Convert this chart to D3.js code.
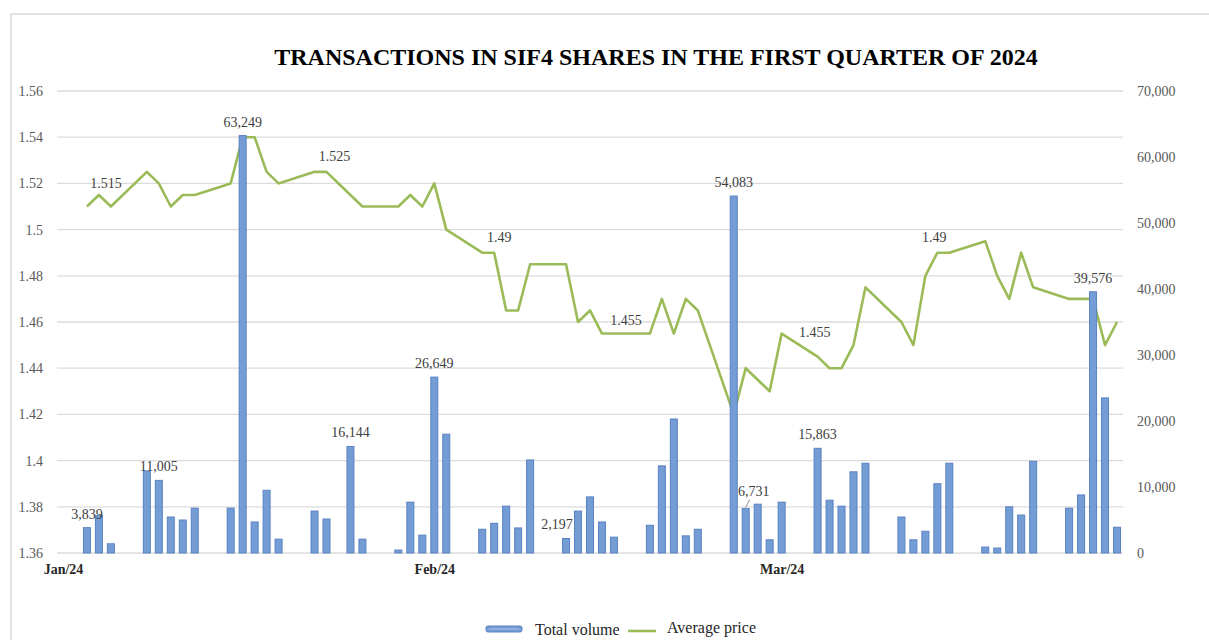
<!DOCTYPE html>
<html lang="en">
<head>
    <meta charset="UTF-8">
    <title>SIF4 transactions Q1 2024</title>
    <script src="https://d3js.org/d3.v7.min.js"></script>
    <style>
        body{
            margin: 0;
            background-color: #ffffff;
        }
        #canvas text{
            font-family: "Liberation Serif", "Times New Roman", serif;
        }
        .title{
            font-size: 24px;
            font-weight: bold;
            fill: #000000;
        }
        .axis text{
            font-size: 14px;
            fill: #595959;
        }
        .xaxis text{
            font-size: 14px;
            font-weight: bold;
            fill: #262626;
        }
        .grid{
            stroke: #dcdcdc;
            stroke-width: 1.3px;
        }
        .bar{
            fill: #749cd5;
            stroke: #5a82c2;
            stroke-width: 1px;
        }
        .price{
            fill: none;
            stroke: #9bbb59;
            stroke-width: 2.6px;
            stroke-linejoin: round;
        }
        .label{
            font-size: 14px;
            fill: #404040;
            text-anchor: middle;
        }
        .legend text{
            font-size: 16px;
            fill: #262626;
        }
    </style>
</head>
<body>
<svg id="canvas" width="1209" height="640"></svg>
<script>
    // trading days of Q1 2024
    let tradeDays = [
        "2024-01-03","2024-01-04","2024-01-05","2024-01-08","2024-01-09","2024-01-10","2024-01-11","2024-01-12",
        "2024-01-15","2024-01-16","2024-01-17","2024-01-18","2024-01-19","2024-01-22","2024-01-23","2024-01-25",
        "2024-01-26","2024-01-29","2024-01-30","2024-01-31",
        "2024-02-01","2024-02-02","2024-02-05","2024-02-06","2024-02-07","2024-02-08","2024-02-09","2024-02-12",
        "2024-02-13","2024-02-14","2024-02-15","2024-02-16","2024-02-19","2024-02-20","2024-02-21","2024-02-22",
        "2024-02-23","2024-02-26","2024-02-27","2024-02-28","2024-02-29",
        "2024-03-01","2024-03-04","2024-03-05","2024-03-06","2024-03-07","2024-03-08","2024-03-11","2024-03-12",
        "2024-03-13","2024-03-14","2024-03-15","2024-03-18","2024-03-19","2024-03-20","2024-03-21","2024-03-22",
        "2024-03-25","2024-03-26","2024-03-27","2024-03-28","2024-03-29"]
    let totalVolume = [
        3839, 5700, 1400, 12400, 11005, 5450, 5000, 6800,
        6800, 63249, 4700, 9500, 2100, 6350, 5150, 16144,
        2100, 450, 7700, 2700,
        26649, 18000, 3600, 4500, 7100, 3800, 14100, 2197,
        6350, 8500, 4700, 2400, 4200, 13200, 20300, 2600,
        3600, 54083, 6731, 7400, 2000,
        7700, 15863, 8000, 7100, 12300, 13600, 5450, 2000,
        3300, 10500, 13600, 900, 750, 7000, 5750, 13900,
        6800, 8800, 39576, 23500, 3900]
    let avgPrice = [
        1.51, 1.515, 1.51, 1.525, 1.52, 1.51, 1.515, 1.515,
        1.52, 1.54, 1.54, 1.525, 1.52, 1.525, 1.525, 1.515,
        1.51, 1.51, 1.515, 1.51,
        1.52, 1.50, 1.49, 1.49, 1.465, 1.465, 1.485, 1.485,
        1.46, 1.465, 1.455, 1.455, 1.455, 1.47, 1.455, 1.47,
        1.465, 1.42, 1.44, 1.435, 1.43,
        1.455, 1.445, 1.44, 1.44, 1.45, 1.475, 1.46, 1.45,
        1.48, 1.49, 1.49, 1.495, 1.48, 1.47, 1.49, 1.475,
        1.47, 1.47, 1.47, 1.45, 1.46]
    let priceTicks = [1.36, 1.38, 1.40, 1.42, 1.44, 1.46, 1.48, 1.50, 1.52, 1.54, 1.56]
    let volumeTicks = [0, 10000, 20000, 30000, 40000, 50000, 60000, 70000]
    let monthTicks = ["2024-01-01", "2024-02-01", "2024-03-01"]
    let volumeLabelDays = ["2024-01-03","2024-01-09","2024-01-16","2024-01-25","2024-02-01",
        "2024-02-12","2024-02-26","2024-02-27","2024-03-04","2024-03-27"]
    let priceLabelDays = ["2024-01-04","2024-01-23","2024-02-06","2024-02-16","2024-03-01","2024-03-14"]
    let titleText = "TRANSACTIONS IN SIF4 SHARES IN THE FIRST QUARTER OF 2024"
    let seriesNames = ["Total volume", "Average price"]

    let parse = d3.timeParse("%Y-%m-%d")
    let rows = tradeDays.map(function (d, i) {
        return {key: d, date: parse(d), vol: totalVolume[i], price: avgPrice[i]}
    })
    let byKey = {}
    rows.forEach(function (r) { byKey[r.key] = r })

    let svg = d3.select('#canvas')
    let plot = {left: 57, right: 1123, top: 91, bottom: 553}

    // frame
    svg.append('rect').attr('x', 11).attr('y', 14).attr('width', 1220).attr('height', 660)
        .attr('fill', 'none').attr('stroke', '#d9d9d9').attr('stroke-width', 1.5)

    svg.append('text').attr('class', 'title')
        .attr('x', 656).attr('y', 65).attr('text-anchor', 'middle')
        .text(titleText)

    let xScale = d3.scaleTime()
        .domain([new Date(2023, 11, 31, 12), new Date(2024, 2, 29, 12)])
        .range([plot.left, plot.right])
    let yPrice = d3.scaleLinear().domain([1.36, 1.56]).range([plot.bottom, plot.top])
    let yVol = d3.scaleLinear().domain([0, 70000]).range([plot.bottom, plot.top])

    svg.append('g').selectAll('line')
        .data(priceTicks)
        .enter()
        .append('line')
        .attr('class', 'grid')
        .attr('x1', plot.left).attr('x2', plot.right)
        .attr('y1', yPrice).attr('y2', yPrice)

    let leftAxis = d3.axisLeft(yPrice).tickValues(priceTicks).tickSize(0).tickPadding(14)
        .tickFormat(function (d) { return String(+d.toFixed(2)) })
    svg.append('g').attr('class', 'axis')
        .attr('transform', `translate(${plot.left},0)`)
        .call(leftAxis)
        .call(function (g) { g.select('.domain').remove() })

    let rightAxis = d3.axisRight(yVol).tickValues(volumeTicks).tickSize(0).tickPadding(14)
        .tickFormat(d3.format(','))
    svg.append('g').attr('class', 'axis')
        .attr('transform', `translate(${plot.right},0)`)
        .call(rightAxis)
        .call(function (g) { g.select('.domain').remove() })

    let bottomAxis = d3.axisBottom(xScale).tickValues(monthTicks.map(parse)).tickSize(0).tickPadding(11)
        .tickFormat(d3.timeFormat('%b/%y'))
    svg.append('g').attr('class', 'xaxis')
        .attr('transform', `translate(0,${plot.bottom})`)
        .call(bottomAxis)
        .call(function (g) { g.select('.domain').remove() })

    // average price line
    let lineGenerator = d3.line()
        .x(function (d) { return xScale(d.date) })
        .y(function (d) { return yPrice(d.price) })
    svg.append('path').datum(rows).attr('class', 'price').attr('d', lineGenerator)

    // volume bars (secondary axis, drawn on top)
    let barW = 7
    svg.append('g').selectAll('rect')
        .data(rows)
        .enter()
        .append('rect')
        .attr('class', 'bar')
        .attr('x', function (d) { return xScale(d.date) - barW / 2 })
        .attr('y', function (d) { return yVol(d.vol) })
        .attr('width', barW)
        .attr('height', function (d) { return yVol(0) - yVol(d.vol) })

    // small nudges where the original labels sit off-centre
    let volNudge = {"2024-02-12": [-9, 0], "2024-02-27": [8, -4]}
    let priceNudge = {"2024-01-04": [7, 4], "2024-01-23": [8, 0], "2024-02-06": [5, 0],
        "2024-02-16": [12, 2], "2024-03-01": [33, 14], "2024-03-14": [-3, 0]}

    let volLabels = svg.append('g')
    volumeLabelDays.forEach(function (k) {
        let d = byKey[k]
        let n = volNudge[k] || [0, 0]
        let x = xScale(d.date), y = yVol(d.vol)
        volLabels.append('text').attr('class', 'label')
            .attr('x', x + n[0]).attr('y', y - 9 + n[1])
            .text(d3.format(',')(d.vol))
        if (k === "2024-02-27") {
            volLabels.append('line')
                .attr('x1', x + 4).attr('y1', y - 9)
                .attr('x2', x).attr('y2', y - 1)
                .attr('stroke', '#8c8c8c').attr('stroke-width', 1)
        }
    })

    let priceLabels = svg.append('g')
    priceLabelDays.forEach(function (k) {
        let d = byKey[k]
        let n = priceNudge[k] || [0, 0]
        priceLabels.append('text').attr('class', 'label')
            .attr('x', xScale(d.date) + n[0]).attr('y', yPrice(d.price) - 11 + n[1])
            .text(String(+d.price.toFixed(3)))
    })

    // legend
    let legend = svg.append('g').attr('class', 'legend')
    legend.append('rect').attr('x', 486).attr('y', 626).attr('width', 36).attr('height', 6).attr('rx', 2)
        .attr('class', 'bar')
    legend.append('line').attr('x1', 489).attr('x2', 519).attr('y1', 629).attr('y2', 629)
        .attr('stroke', '#a9c2e6').attr('stroke-width', 1)
    legend.append('text').attr('x', 535).attr('y', 635).text(seriesNames[0])
    legend.append('line').attr('x1', 628).attr('x2', 656).attr('y1', 631).attr('y2', 631)
        .attr('class', 'price')
    legend.append('text').attr('x', 667).attr('y', 633).text(seriesNames[1])
</script>
</body>
</html>
